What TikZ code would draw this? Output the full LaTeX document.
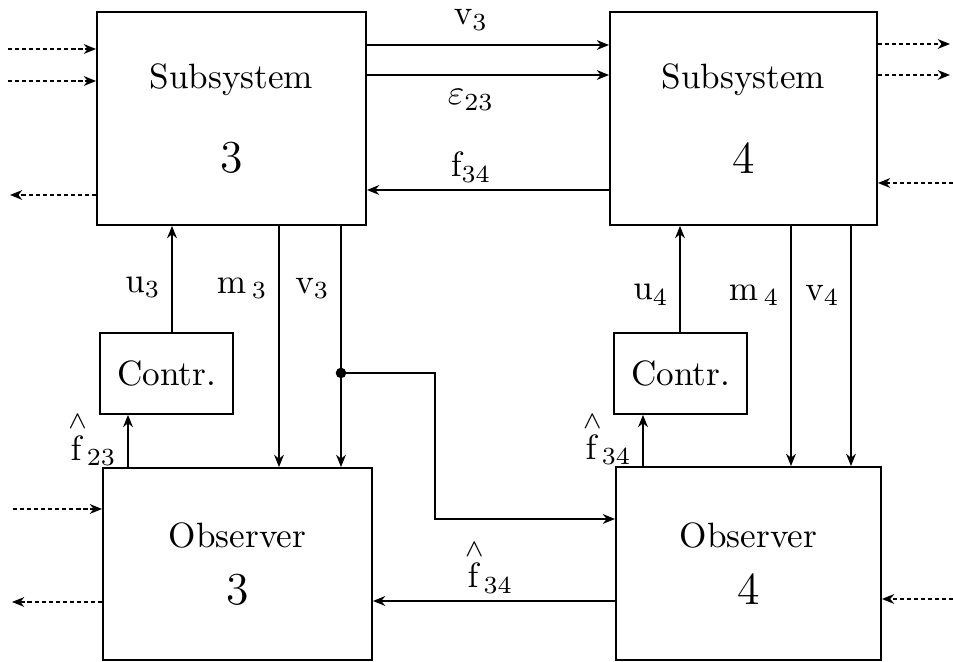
\documentclass[tikz,border=0pt]{standalone}
\usepackage{amsmath}
\usetikzlibrary{arrows.meta}
\tikzset{
  blk/.style={draw, line width=0.5pt, inner sep=0pt, align=center, font=\normalsize},
  sig/.style={line width=0.4pt, -{Stealth[length=3.5pt,width=2.8pt]}},
  ext/.style={sig, dash pattern=on 1.2pt off 0.8pt},
  lbl/.style={inner sep=1pt, font=\normalsize},
}
\newcommand{\bignum}[1]{{\fontsize{13}{15}\selectfont #1}}
\newcommand{\fhat}[1]{{\overset{\wedge}{\mathrm{f}}}_{#1}}

\begin{document}
\begin{tikzpicture}[x=0.01cm, y=-0.01cm]
  \useasboundingbox (0,0) rectangle (953,662);

  % blocks
  \node[blk, minimum width=2.69cm, minimum height=2.13cm] (sub3) at (231.5,118.5) {Subsystem\\[12pt]\bignum{3}};
  \node[blk, minimum width=2.67cm, minimum height=2.13cm] (sub4) at (743.5,118.5) {Subsystem\\[12pt]\bignum{4}};
  \node[blk, minimum width=1.33cm, minimum height=0.81cm] (con3) at (166.5,373.5) {Contr.};
  \node[blk, minimum width=1.33cm, minimum height=0.81cm] (con4) at (680.5,373.5) {Contr.};
  \node[blk, minimum width=2.69cm, minimum height=1.92cm] (obs3) at (237.5,564) {Observer\\[4pt]\bignum{3}};
  \node[blk, minimum width=2.65cm, minimum height=1.93cm] (obs4) at (748.5,563.5) {Observer\\[4pt]\bignum{4}};

  % free ends
  \coordinate (s3ina) at (8,49);
  \coordinate (s3inb) at (8,81);
  \coordinate (s3out) at (10,195);
  \coordinate (s4outa) at (950,44);
  \coordinate (s4outb) at (950,75);
  \coordinate (s4in) at (953,183);
  \coordinate (o3in) at (13,509);
  \coordinate (o3out) at (12,602);
  \coordinate (o4in) at (953,599);

  % outside signals
  \draw[ext] (s3ina) -- (sub3.west |- s3ina);
  \draw[ext] (s3inb) -- (sub3.west |- s3inb);
  \draw[ext] (sub3.west |- s3out) -- (s3out);
  \draw[ext] (sub4.east |- s4outa) -- (s4outa);
  \draw[ext] (sub4.east |- s4outb) -- (s4outb);
  \draw[ext] (s4in) -- (sub4.east |- s4in);
  \draw[ext] (o3in) -- (obs3.west |- o3in);
  \draw[ext] (obs3.west |- o3out) -- (o3out);
  \draw[ext] (o4in) -- (obs4.east |- o4in);

  % subsystem coupling
  \draw[sig] (sub3.east |- 0,45) -- node[lbl, above=3pt, pos=0.43] {$\mathrm{v}_3$} (sub4.west |- 0,45);
  \draw[sig] (sub3.east |- 0,75) -- node[lbl, below=3pt, pos=0.43] {$\varepsilon_{23}$} (sub4.west |- 0,75);
  \draw[sig] (sub4.west |- 0,190) -- node[lbl, above=1pt, pos=0.57] {$\mathrm{f}_{34}$} (sub3.east |- 0,190);

  % loop 3
  \draw[sig] (con3.north -| 172,0) -- node[lbl, left=2pt, pos=0.42] {$\mathrm{u}_3$} (sub3.south -| 172,0);
  \draw[sig] (sub3.south -| 279,0) -- node[lbl, left=2pt, pos=0.26] {$\mathrm{m}\,{}_3$} (obs3.north -| 279,0);
  \draw[sig] (sub3.south -| 341,0) -- node[lbl, left=2pt, pos=0.26] {$\mathrm{v}_3$} (obs3.north -| 341,0);
  \draw[sig] (obs3.north -| 128,0) -- node[lbl, left=2pt, pos=0.55] {$\fhat{23}$} (con3.south -| 128,0);

  % branch to observer 4
  \coordinate (jn) at (341,373);
  \fill (jn) circle (1.5pt);
  \draw[sig] (jn) -| (435,519) -- (obs4.west |- 0,519);
  \draw[sig] (obs4.west |- 0,601) -- node[lbl, above=1pt, pos=0.52] {$\fhat{34}$} (obs3.east |- 0,601);

  % loop 4
  \draw[sig] (con4.north -| 680,0) -- node[lbl, left=2pt, pos=0.35] {$\mathrm{u}_4$} (sub4.south -| 680,0);
  \draw[sig] (sub4.south -| 791,0) -- node[lbl, left=2pt, pos=0.29] {$\mathrm{m}\,{}_4$} (obs4.north -| 791,0);
  \draw[sig] (sub4.south -| 851,0) -- node[lbl, left=2pt, pos=0.29] {$\mathrm{v}_4$} (obs4.north -| 851,0);
  \draw[sig] (obs4.north -| 643,0) -- node[lbl, left=2pt, pos=0.55] {$\fhat{34}$} (con4.south -| 643,0);
\end{tikzpicture}
\end{document}
